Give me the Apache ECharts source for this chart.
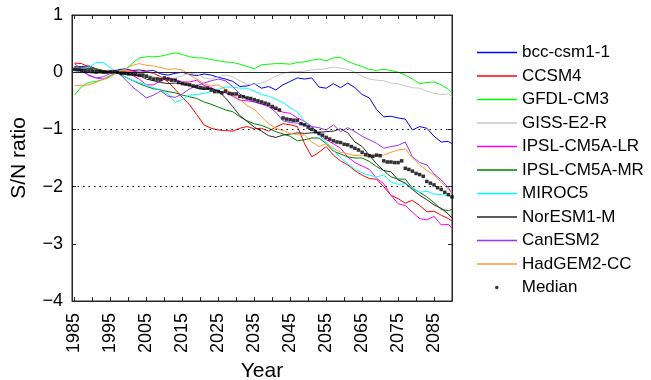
<!DOCTYPE html>
<html>
<head>
<meta charset="utf-8">
<script src="https://cdn.jsdelivr.net/npm/echarts@6/dist/echarts.min.js"></script>
<style>html,body{margin:0;padding:0;background:#fff}#c{width:651px;height:380px}</style>
</head>
<body>
<div id="c"></div>
<script>
const yearsLine = [1985,1987,1989,1991,1993,1995,1997,1999,2001,2003,2005,2007,2009,2011,2013,2015,2017,2019,2021,2023,2025,2027,2029,2031,2033,2035,2037,2039,2041,2043,2045,2047,2049,2051,2053,2055,2057,2059,2061,2063,2065,2067,2069,2071,2073,2075,2077,2079,2081,2083,2085,2087,2089,2090];

const bcc = [0.09,0.10,0.11,0.06,0.02,0.00,0.04,0.06,0.03,0.04,0.02,0.03,-0.03,-0.05,-0.02,0.00,-0.04,-0.06,-0.03,-0.05,-0.09,-0.12,-0.16,-0.25,-0.24,-0.20,-0.28,-0.25,-0.31,-0.22,-0.16,-0.10,-0.12,-0.10,-0.26,-0.28,-0.20,-0.27,-0.19,-0.27,-0.39,-0.45,-0.65,-0.78,-0.77,-0.80,-0.82,-1.01,-0.95,-0.98,-1.12,-1.22,-1.21,-1.25];
const ccsm4 = [0.16,0.15,0.09,0.05,0.03,0.01,0.01,0.02,0.02,0.00,0.01,-0.02,-0.08,-0.17,-0.30,-0.44,-0.57,-0.74,-0.92,-0.98,-1.01,-1.02,-1.03,-0.98,-0.95,-0.99,-0.98,-1.03,-0.96,-0.90,-0.92,-0.95,-1.25,-1.48,-1.40,-1.30,-1.45,-1.55,-1.62,-1.72,-1.80,-1.86,-1.87,-2.00,-2.15,-2.21,-2.29,-2.24,-2.33,-2.44,-2.43,-2.50,-2.56,-2.60];
const gfdl = [-0.40,-0.25,-0.18,-0.16,-0.13,-0.08,0.01,0.04,0.15,0.25,0.27,0.27,0.28,0.31,0.34,0.31,0.27,0.25,0.25,0.22,0.20,0.18,0.17,0.14,0.10,0.06,0.13,0.14,0.15,0.15,0.14,0.17,0.18,0.21,0.23,0.20,0.25,0.26,0.19,0.14,0.10,0.05,0.03,0.05,0.03,0.00,-0.05,-0.12,-0.20,-0.18,-0.17,-0.22,-0.30,-0.37];
const giss = [0.02,0.04,0.03,0.00,-0.02,0.00,0.01,-0.03,-0.05,-0.07,-0.05,-0.08,-0.10,-0.12,-0.10,-0.06,-0.02,-0.03,-0.10,-0.12,-0.08,-0.05,-0.08,-0.15,-0.21,-0.21,-0.19,-0.14,-0.07,-0.02,0.01,0.01,0.02,0.04,0.05,0.06,0.09,0.07,0.05,0.00,-0.07,-0.12,-0.14,-0.15,-0.19,-0.20,-0.24,-0.27,-0.28,-0.33,-0.37,-0.39,-0.38,-0.43];
const ipslLR = [0.15,0.05,-0.05,-0.10,-0.12,-0.06,0.00,-0.02,-0.05,-0.12,-0.22,-0.22,-0.15,-0.10,-0.13,-0.17,-0.17,-0.14,-0.23,-0.27,-0.33,-0.36,-0.42,-0.49,-0.50,-0.52,-0.55,-0.60,-0.65,-0.70,-0.72,-0.80,-0.86,-0.95,-1.08,-1.18,-1.25,-1.33,-1.48,-1.58,-1.64,-1.70,-1.85,-1.95,-2.15,-2.30,-2.33,-2.45,-2.56,-2.58,-2.52,-2.67,-2.66,-2.73];
const ipslMR = [0.10,0.08,0.07,0.06,0.03,-0.02,-0.02,-0.08,-0.14,-0.20,-0.25,-0.29,-0.31,-0.34,-0.36,-0.40,-0.43,-0.46,-0.52,-0.56,-0.61,-0.66,-0.69,-0.78,-0.85,-0.90,-0.93,-0.98,-1.04,-1.08,-1.12,-1.20,-1.18,-1.15,-1.15,-1.25,-1.38,-1.43,-1.48,-1.50,-1.50,-1.56,-1.65,-1.72,-1.83,-1.87,-1.87,-2.03,-2.10,-2.18,-2.28,-2.40,-2.42,-2.40];
const miroc5 = [0.02,0.05,0.08,0.17,0.17,0.08,-0.02,-0.08,-0.14,-0.18,-0.22,-0.27,-0.32,-0.38,-0.53,-0.48,-0.40,-0.39,-0.37,-0.34,-0.30,-0.26,-0.26,-0.28,-0.28,-0.33,-0.39,-0.42,-0.47,-0.53,-0.62,-0.70,-0.86,-0.98,-1.10,-1.22,-1.36,-1.50,-1.60,-1.70,-1.76,-1.80,-1.83,-1.80,-1.92,-1.96,-1.95,-2.02,-2.10,-2.08,-2.13,-2.14,-2.16,-2.18];
const noresm = [0.06,0.05,0.06,0.03,0.01,0.00,-0.01,-0.02,-0.04,-0.06,-0.12,-0.15,-0.18,-0.20,-0.19,-0.20,-0.23,-0.28,-0.30,-0.28,-0.33,-0.45,-0.60,-0.76,-0.86,-0.96,-1.03,-1.11,-1.14,-1.10,-1.08,-1.06,-1.07,-1.06,-1.05,-1.04,-1.03,-0.99,-1.06,-1.22,-1.30,-1.45,-1.60,-1.72,-1.74,-1.88,-1.94,-2.05,-2.15,-2.23,-2.32,-2.38,-2.48,-2.55];
const canesm2 = [0.05,0.02,-0.06,-0.10,-0.08,-0.02,0.00,-0.12,-0.25,-0.35,-0.45,-0.40,-0.33,-0.42,-0.44,-0.38,-0.29,-0.24,-0.19,-0.15,-0.12,-0.15,-0.25,-0.38,-0.46,-0.52,-0.56,-0.60,-0.70,-0.85,-0.88,-0.89,-0.92,-0.95,-0.97,-1.01,-0.92,-1.04,-0.97,-1.04,-1.12,-1.18,-1.24,-1.33,-1.30,-1.28,-1.22,-1.48,-1.58,-1.62,-1.78,-1.88,-2.02,-2.12];
const hadgem = [-0.23,-0.23,-0.22,-0.18,-0.12,-0.06,0.00,0.05,0.12,0.15,0.12,0.11,0.08,0.05,0.06,0.04,-0.05,-0.12,-0.20,-0.24,-0.22,-0.30,-0.38,-0.48,-0.58,-0.65,-0.78,-0.90,-0.98,-1.02,-1.07,-1.09,-1.10,-1.22,-1.30,-1.25,-1.33,-1.40,-1.43,-1.46,-1.45,-1.48,-1.45,-1.45,-1.40,-1.36,-1.34,-1.50,-1.62,-1.72,-1.80,-1.92,-2.05,-2.12];

const yearsMedian = [1985,1986,1987,1988,1989,1990,1991,1992,1993,1994,1995,1996,1997,1998,1999,2000,2001,2002,2003,2004,2005,2006,2007,2008,2009,2010,2011,2012,2013,2014,2015,2016,2017,2018,2019,2020,2021,2022,2023,2024,2025,2026,2027,2028,2029,2030,2031,2032,2033,2034,2035,2036,2037,2038,2039,2040,2041,2042,2043,2044,2045,2046,2047,2048,2049,2050,2051,2052,2053,2054,2055,2056,2057,2058,2059,2060,2061,2062,2063,2064,2065,2066,2067,2068,2069,2070,2071,2072,2073,2074,2075,2076,2077,2078,2079,2080,2081,2082,2083,2084,2085,2086,2087,2088,2089,2090];
const median = [0.05,0.04,0.03,0.02,0.02,0.01,0.00,0.01,0.00,0.00,0.01,0.01,0.00,-0.02,-0.02,-0.03,-0.03,-0.04,-0.05,-0.05,-0.07,-0.10,-0.12,-0.12,-0.13,-0.10,-0.12,-0.14,-0.14,-0.18,-0.20,-0.21,-0.22,-0.24,-0.25,-0.27,-0.28,-0.28,-0.31,-0.34,-0.34,-0.36,-0.33,-0.37,-0.38,-0.38,-0.42,-0.43,-0.45,-0.46,-0.48,-0.50,-0.52,-0.54,-0.56,-0.60,-0.63,-0.66,-0.80,-0.82,-0.83,-0.84,-0.84,-0.90,-0.92,-0.96,-1.00,-1.04,-1.07,-1.10,-1.14,-1.17,-1.20,-1.22,-1.23,-1.26,-1.27,-1.30,-1.33,-1.36,-1.40,-1.44,-1.46,-1.47,-1.45,-1.46,-1.55,-1.57,-1.57,-1.58,-1.58,-1.55,-1.68,-1.70,-1.73,-1.77,-1.79,-1.82,-1.91,-1.94,-1.97,-2.02,-2.05,-2.10,-2.14,-2.18];

const xTicks = [1985,1990,1995,2000,2005,2010,2015,2020,2025,2030,2035,2040,2045,2050,2055,2060,2065,2070,2075,2080,2085,2090];
const xLabels = [1985,1995,2005,2015,2025,2035,2045,2055,2065,2075,2085];

const models = [
  ['bcc-csm1-1', bcc, '#0000ff'],
  ['CCSM4', ccsm4, '#ff0000'],
  ['GFDL-CM3', gfdl, '#00ff00'],
  ['GISS-E2-R', giss, '#c8c8c8'],
  ['IPSL-CM5A-LR', ipslLR, '#ff00ff'],
  ['IPSL-CM5A-MR', ipslMR, '#008000'],
  ['MIROC5', miroc5, '#00ffff'],
  ['NorESM1-M', noresm, '#262626'],
  ['CanESM2', canesm2, '#9933ff'],
  ['HadGEM2-CC', hadgem, '#ff9933']
];

const FONT = 'Liberation Sans, Arial, Helvetica, sans-serif';
const AX = '#262626';
const minus = v => (v < 0 ? '\u2212' + Math.abs(v) : String(v));

const series = models.map(([name, vals, color], i) => ({
  name: name, type: 'line', symbol: 'none', showSymbol: false,
  xAxisIndex: 0, yAxisIndex: 0,
  data: yearsLine.map((y, k) => [y, vals[k]]),
  lineStyle: {color: color, width: 1}, itemStyle: {color: color},
  z: 2 + i * 0.01, animation: false,
  markLine: i === 0 ? {
    silent: true, symbol: 'none', label: {show: false}, animation: false,
    data: [
      {yAxis: 0, lineStyle: {color: AX, width: 1, type: 'solid'}},
      {yAxis: -1, lineStyle: {color: '#000', width: 1, type: [1.5, 4]}},
      {yAxis: -2, lineStyle: {color: '#000', width: 1, type: [1.5, 4]}}
    ]
  } : undefined
}));
series.push({
  name: 'Median', type: 'scatter', symbol: 'rect', symbolSize: 3.5,
  xAxisIndex: 0, yAxisIndex: 0,
  data: yearsMedian.map((y, k) => [y, median[k]]),
  itemStyle: {color: '#000'}, z: 5, animation: false
});
// empty helper series so the box axes (top / right) are laid out
series.push({type: 'line', xAxisIndex: 1, yAxisIndex: 1, data: [], silent: true, animation: false});

const tickCommon = {show: true, inside: true, length: 4, lineStyle: {color: AX, width: 1}};
const chart = echarts.init(document.getElementById('c'), null, {renderer: 'canvas'});
chart.setOption({
  backgroundColor: '#fff',
  animation: false,
  textStyle: {fontFamily: FONT},
  grid: {left: 72, right: 199, top: 15, bottom: 79, outerBoundsMode: 'none', containLabel: false,
         show: true, borderColor: AX, borderWidth: 1, backgroundColor: 'transparent'},
  legend: [{
    orient: 'vertical', left: 477, top: 44, padding: 0,
    itemWidth: 40, itemHeight: 1.5, itemGap: 6.5, icon: 'rect',
    textStyle: {fontSize: 17, lineHeight: 17, color: '#000', fontFamily: FONT},
    data: models.map(m => m[0])
  }, {
    orient: 'vertical', left: 495, top: 44 + 10 * 23.5, padding: 0,
    itemWidth: 40, itemHeight: 3.5, itemGap: 6.5, icon: 'circle',
    textStyle: {fontSize: 17, lineHeight: 17, color: '#000', fontFamily: FONT},
    data: ['Median']
  }],
  xAxis: [{
    type: 'value', min: 1984.3, max: 2090, position: 'bottom',
    name: 'Year', nameLocation: 'middle', nameGap: 58,
    nameTextStyle: {fontSize: 21, color: '#000', fontFamily: FONT},
    axisLine: {show: true, onZero: false, lineStyle: {color: AX, width: 1}},
    axisTick: Object.assign({customValues: xTicks}, tickCommon),
    axisLabel: {customValues: xLabels, rotate: 90, fontSize: 18, color: '#000', margin: 12, fontFamily: FONT, formatter: v => String(v)},
    splitLine: {show: false}
  }, {
    type: 'value', min: 1984.3, max: 2090, position: 'top',
    axisLine: {show: true, onZero: false, lineStyle: {color: AX, width: 1}},
    axisTick: Object.assign({customValues: xTicks}, tickCommon),
    axisLabel: {show: false}, splitLine: {show: false}
  }],
  yAxis: [{
    type: 'value', min: -4, max: 1, interval: 1, position: 'left',
    name: 'S/N ratio', nameLocation: 'middle', nameGap: 42, nameRotate: 90,
    nameTextStyle: {fontSize: 21, color: '#000', fontFamily: FONT},
    axisLine: {show: true, onZero: false, lineStyle: {color: AX, width: 1}},
    axisTick: tickCommon,
    axisLabel: {fontSize: 18, color: '#000', margin: 9, fontFamily: FONT, formatter: minus},
    splitLine: {show: false}
  }, {
    type: 'value', min: -4, max: 1, interval: 1, position: 'right',
    axisLine: {show: true, onZero: false, lineStyle: {color: AX, width: 1}},
    axisTick: tickCommon,
    axisLabel: {show: false}, splitLine: {show: false}
  }],
  series: series
});
</script>
</body>
</html>
